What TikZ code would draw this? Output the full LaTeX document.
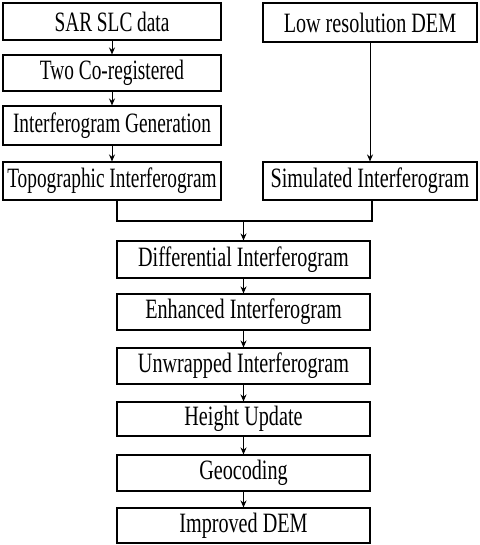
\documentclass[tikz,border=0pt]{standalone}
\usepackage{fontspec}
\setmainfont{Liberation Serif}[FakeStretch=0.72]
\newfontfamily\narrowserif{Liberation Serif}[FakeStretch=0.69]
\usetikzlibrary{arrows.meta}
\begin{document}
\begin{tikzpicture}[x=1pt,y=-1pt,
  box/.style={draw, line width=1.1pt, inner sep=0pt, font=\fontsize{28}{30}\selectfont},
  lbox/.style={box, minimum width=218pt, font=\fontsize{28}{30}\selectfont\narrowserif},
  rbox/.style={box, minimum width=214pt},
  cbox/.style={box, minimum width=253pt},
  arr/.style={-{Stealth[length=7pt,width=6pt]}, line width=1pt},
  ln/.style={line width=1.1pt}]
\useasboundingbox (0,0) rectangle (479,545);
\node[lbox, minimum height=37pt] (sar) at (112,21.5) {SAR SLC data};
\node[lbox, minimum height=36pt] (two) at (112,73) {Two Co-registered};
\node[lbox, minimum height=39pt] (gen) at (112,125.5) {Interferogram Generation};
\node[lbox, minimum height=38pt] (topo) at (112,181) {Topographic Interferogram};
\node[rbox, minimum height=39pt] (low) at (370,22.5) {Low resolution DEM};
\node[rbox, minimum height=38pt] (sim) at (370,181) {Simulated Interferogram};
\node[cbox, minimum height=37pt] (diff) at (243.5,259.5) {Differential Interferogram};
\node[cbox, minimum height=36pt] (enh) at (243.5,312) {Enhanced Interferogram};
\node[cbox, minimum height=36pt] (unw) at (243.5,366) {Unwrapped Interferogram};
\node[cbox, minimum height=34pt] (hgt) at (243.5,419) {Height Update};
\node[cbox, minimum height=36pt] (geo) at (243.5,473) {Geocoding};
\node[cbox, minimum height=35pt] (imp) at (243.5,525.5) {Improved DEM};
\coordinate (tl) at (117,221);
\coordinate (tr) at (372,221);
\coordinate (m) at (243.5,221);
\draw[arr] (sar) -- (two);
\draw[arr] (two) -- (gen);
\draw[arr] (gen) -- (topo);
\draw[arr] (low) -- (sim);
\draw[ln] (tl |- topo.south) -- (tl) -- (tr) -- (tr |- sim.south);
\draw[arr] (m) -- (diff);
\draw[arr] (diff) -- (enh);
\draw[arr] (enh) -- (unw);
\draw[arr] (unw) -- (hgt);
\draw[arr] (hgt) -- (geo);
\draw[arr] (geo) -- (imp);
\end{tikzpicture}
\end{document}
